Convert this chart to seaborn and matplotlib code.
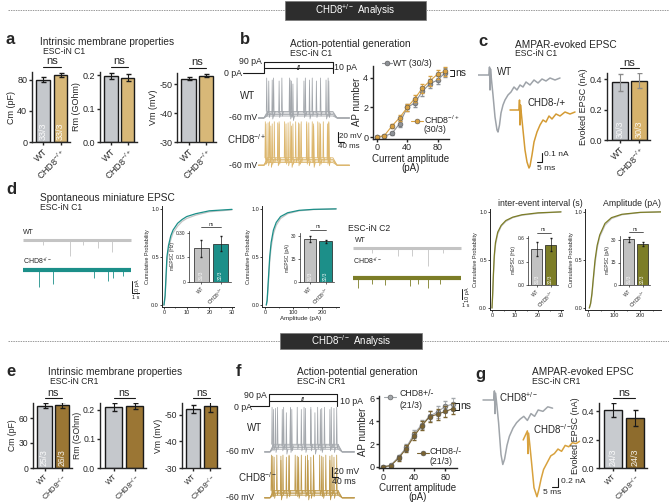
import matplotlib
matplotlib.use('Agg')
import matplotlib.pyplot as plt
import matplotlib.transforms as mtransforms
from matplotlib.lines import Line2D
from matplotlib.patches import Rectangle
import seaborn as sns

# ---------------- data ----------------
lab_het = ['WT', r'CHD8$^{-/+}$']
lab_het_d = ['WT', r'CHD8$^{+/-}$']
lab_ko = ['WT', r'CHD8$^{-/-}$']

# a: intrinsic properties C1
a_cm = [80, 86]
a_cm_err = [3, 3]
a_rm = [0.197, 0.192]
a_rm_err = [0.008, 0.01]
a_vm = [-52, -53]
a_vm_err = [0.6, 0.5]
a_n = ['33/3', '33/3']

# b: AP number vs current
current = [0, 10, 20, 30, 40, 50, 60, 70, 80, 90]
b_ap_wt = [0, 0.05, 0.25, 0.9, 2.0, 2.3, 3.1, 3.6, 3.85, 4.35]
b_ap_wt_err = [0, 0.05, 0.12, 0.2, 0.25, 0.25, 0.3, 0.3, 0.3, 0.3]
b_ap_het = [0, 0.1, 0.75, 1.3, 2.0, 2.6, 3.3, 3.8, 4.25, 4.45]
b_ap_het_err = [0, 0.05, 0.15, 0.2, 0.25, 0.25, 0.3, 0.35, 0.3, 0.3]

# b: example traces (plateau mV, peak mV, spike times ms)
b_wt_plateau = [-56, -53, -50, -47]
b_wt_peak = [8, 16, 14, 20]
b_wt_spikes = [[210], [60, 190, 330, 450], [35, 110, 200, 290, 380, 470],
               [20, 70, 130, 185, 240, 300, 350, 410, 465]]
b_het_plateau = [-55, -52, -49, -46]
b_het_peak = [14, 20, 18, 22]
b_het_spikes = [[50, 200, 360], [30, 100, 175, 250, 325, 400, 470],
                [15, 60, 110, 160, 210, 260, 310, 360, 410, 460],
                [10, 40, 75, 110, 150, 190, 230, 270, 310, 350, 390, 430, 470]]
stim_t = [-150, 0, 0, 500, 500]
stim_pa = [0, 0, 90, 90, 0]

# c: evoked EPSC
c_wt_t = [-12, -1, -0.5, 0, 0.5, 1.5, 3, 5, 7, 8, 9.5, 11, 13, 15, 18, 21, 24, 27, 30, 33, 36, 40, 44, 48, 52, 56, 60, 65, 70]
c_wt_i = [0, 0, 0.08, -0.15, 0.06, -0.05, -0.2, -0.42, -0.55, -0.57, -0.5, -0.38, -0.3, -0.25, -0.2, -0.17, -0.12,
          -0.15, -0.1, -0.12, -0.07, -0.1, -0.05, -0.08, -0.04, -0.06, -0.03, -0.05, -0.03]
c_het_t = [-10, -1, -0.5, 0, 0.5, 1.5, 3, 5, 7, 9, 10, 12, 14, 17, 20, 23, 26, 29, 32, 36, 40, 45, 50, 55]
c_het_i = [0, 0, 0.1, -0.15, 0.05, -0.05, -0.2, -0.4, -0.52, -0.58, -0.56, -0.45, -0.32, -0.22, -0.15, -0.1,
           -0.12, -0.06, -0.09, -0.04, -0.06, -0.02, -0.04, -0.02]
c_epsc = [0.38, 0.39]
c_epsc_err = [0.055, 0.05]
c_n = ['30/3', '30/3']

# d: mEPSC traces (event time s, amplitude pA)
d1_wt_ev = [2.5, 5.9, 7.5, 9.4, 11.1]
d1_wt_amp = [4, 13, 4, 7, 10]
d1_het_ev = [2.0, 3.8, 8.8, 10.6, 11.2, 12.5]
d1_het_amp = [14, 12, 7, 9, 7, 5]
d2_wt_ev = [2.4, 5.6, 7.4, 9.4, 11.25]
d2_wt_amp = [4, 7, 7, 15, 4]
d2_het_ev = [0.6, 2.4, 4.0, 7.1, 8.1, 9.4, 10.9]
d2_het_amp = [8, 5, 6, 7, 5, 8, 5]

# d: cumulative distributions
d1_int_x = [0, 0.5, 1, 1.3, 2, 3, 4, 6, 8, 10, 14, 20, 30]
d1_int_wt = [0, 0.08, 0.3, 0.45, 0.57, 0.68, 0.75, 0.82, 0.87, 0.9, 0.935, 0.97, 0.99]
d1_int_het = [0, 0.1, 0.35, 0.5, 0.62, 0.72, 0.78, 0.85, 0.89, 0.92, 0.95, 0.98, 0.995]
d1_amp_x = [5, 8, 12, 17, 22, 30, 40, 55, 80, 120, 170, 250]
d1_amp_wt = [0, 0.04, 0.2, 0.45, 0.6, 0.74, 0.83, 0.9, 0.95, 0.98, 0.993, 1.0]
d1_amp_het = [0, 0.05, 0.25, 0.5, 0.65, 0.78, 0.86, 0.92, 0.96, 0.985, 0.995, 1.0]
d2_int_x = [0, 0.3, 0.6, 1, 1.5, 2.5, 4, 6, 9, 13, 20, 30]
d2_int_wt = [0, 0.13, 0.32, 0.52, 0.65, 0.77, 0.85, 0.9, 0.94, 0.965, 0.985, 1.0]
d2_int_het = [0, 0.15, 0.35, 0.55, 0.68, 0.79, 0.86, 0.91, 0.945, 0.97, 0.99, 1.0]
d2_amp_x = [5, 10, 15, 20, 27, 35, 45, 65, 90, 130, 200, 280]
d2_amp_wt = [0, 0.04, 0.13, 0.27, 0.46, 0.62, 0.74, 0.86, 0.93, 0.97, 0.993, 1.0]
d2_amp_het = [0, 0.05, 0.15, 0.3, 0.5, 0.65, 0.76, 0.88, 0.94, 0.975, 0.995, 1.0]
d1_freq = [0.205, 0.232]
d1_freq_err = [0.05, 0.045]
d1_ampl = [28, 26.5]
d1_ampl_err = [2, 0.8]
d2_freq = [0.46, 0.52]
d2_freq_err = [0.09, 0.08]
d2_ampl = [30.5, 27.5]
d2_ampl_err = [1.5, 1.5]
d_n = ['31/3', '32/3']

# e: intrinsic properties CR1
e_cm = [75, 76]
e_cm_err = [2.5, 3.5]
e_rm = [0.208, 0.213]
e_rm_err = [0.014, 0.01]
e_vm = [-52, -53]
e_vm_err = [1.5, 2]
e_n = ['25/3', '26/3']

# f: AP number CR1
f_ap_het = [0, 0.15, 0.85, 1.7, 2.9, 3.7, 4.45, 4.8, 5.3, 5.5]
f_ap_het_err = [0, 0.1, 0.2, 0.3, 0.35, 0.4, 0.45, 0.5, 0.5, 0.5]
f_ap_ko = [0, 0.1, 0.75, 1.6, 2.7, 3.6, 4.4, 4.6, 4.85, 5.1]
f_ap_ko_err = [0, 0.1, 0.2, 0.3, 0.35, 0.4, 0.45, 0.5, 0.5, 0.5]
f_wt_plateau = [-55, -52, -49, -46]
f_wt_peak = [12, 20, 18, 22]
f_wt_spikes = [[120, 330], [40, 150, 260, 380, 470], [25, 90, 160, 230, 300, 370, 440],
               [15, 55, 100, 150, 200, 250, 300, 350, 400, 450, 490]]
f_ko_plateau = [-55, -52, -49, -46]
f_ko_peak = [12, 18, 20, 22]
f_ko_spikes = [[80, 280, 440], [30, 120, 210, 300, 390, 470], [20, 80, 140, 200, 260, 320, 380, 440],
               [10, 50, 95, 140, 185, 230, 275, 320, 365, 410, 455, 490]]

# g: evoked EPSC CR1
g_wt_t = [-10, -1, -0.5, 0, 0.5, 1.5, 3, 5, 6.5, 8, 10, 12, 15, 18, 21, 24, 27, 30, 33, 36, 40, 44, 48]
g_wt_i = [0, 0, 0.2, -0.3, 0.15, -0.1, -0.5, -1.2, -1.42, -1.3, -1.0, -0.8, -0.62, -0.5, -0.42, -0.36,
          -0.45, -0.3, -0.36, -0.22, -0.25, -0.15, -0.18]
g_ko_t = [-4, -0.5, 0, 0.5, 1.5, 3, 5, 7.5, 9, 11, 13, 16, 19, 22, 25, 28, 31, 34, 37, 40, 43]
g_ko_i = [0, 0.2, -0.3, 0.15, -0.1, -0.5, -1.05, -1.25, -1.1, -0.85, -0.65, -0.5, -0.35, -0.3, -0.2, -0.25,
          -0.12, -0.15, -0.06, -0.08, -0.03]
g_epsc = [0.41, 0.355]
g_epsc_err = [0.05, 0.055]
g_n = ['24/3', '24/3']

# ---------------- style ----------------
sns.set_theme(style='ticks')
plt.rcParams['font.family'] = ['Liberation Sans', 'DejaVu Sans']
plt.rcParams['mathtext.default'] = 'regular'
plt.rcParams['axes.linewidth'] = 1.0
plt.rcParams['axes.unicode_minus'] = False

gray_bar = '#c5c8cc'
tan_bar = '#d8b878'
brown_bar = '#9b7634'
teal = '#1c8f89'
olive = '#7c7d27'
lgray = '#c4c4c4'

W, H = 669, 504
fig = plt.figure(figsize=(W / 100, H / 100), dpi=100)


def pax(x0, y0, x1, y1):
    return fig.add_axes([x0 / W, 1 - y1 / H, (x1 - x0) / W, (y1 - y0) / H])


def ftext(x, y, s, **kw):
    kw.setdefault('va', 'center')
    kw.setdefault('fontsize', 7)
    fig.text(x / W, 1 - y / H, s, **kw)


def fline(xs, ys, **kw):
    fig.add_artist(Line2D([x / W for x in xs], [1 - y / H for y in ys], **kw))


def bar_axes(box, labels, means, errs, colors, ylim, yticks, ylabel, counts, fs=6.5,
             ecolor='k', small=False, ytl=None, xfs=None):
    ax = pax(*box)
    lw = 0.5 if small else 1.0
    sns.barplot(x=labels, y=means, hue=labels, palette=colors, legend=False, ax=ax,
                width=0.8, saturation=1, edgecolor='k', linewidth=lw)
    ax.errorbar(range(2), means, yerr=errs, fmt='none', ecolor=ecolor,
                elinewidth=0.5 if small else 0.8, capsize=1 if small else 1.8)
    ax.set_xlim(-0.65, 1.55)
    ax.set_ylim(*ylim)
    ax.set_yticks(yticks)
    if ytl is not None:
        ax.set_yticklabels(ytl)
    ax.set_ylabel(ylabel, fontsize=fs, labelpad=1)
    ax.set_xlabel('')
    ax.set_xticks(range(2))
    ax.set_xticklabels(labels, rotation=45, ha='right', rotation_mode='anchor', fontsize=xfs or fs)
    ax.tick_params(axis='y', labelsize=fs)
    ax.tick_params(length=1.5 if small else 2.5, width=lw, pad=1)
    for sp in ax.spines.values():
        sp.set_linewidth(lw)
    sns.despine(ax=ax)
    tr = mtransforms.blended_transform_factory(ax.transData, ax.transAxes)
    ax.plot([0, 1], [1.07, 1.07], color='k', lw=0.5 if small else 0.8, transform=tr, clip_on=False)
    ax.text(0.5, 1.08, 'ns', ha='center', va='bottom', transform=tr, fontsize=fs + (0 if small else 1.5))
    for i, c in enumerate(counts):
        ax.text(i, ylim[0] + 0.03 * (ylim[1] - ylim[0]), c, rotation=90, color='white',
                ha='center', va='bottom', fontsize=fs, alpha=0.9)
    return ax


def ap_axes(box, s1, e1, s2, e2, c1, c2, ylim, yticks):
    ax = pax(*box)
    for y, e, col in [(s1, e1, c1), (s2, e2, c2)]:
        ax.errorbar(current, y, yerr=e, fmt='none', ecolor=col, elinewidth=0.6, capsize=1.2)
        sns.lineplot(x=current, y=y, color=col, marker='o', markersize=3.5, lw=0.8,
                     markeredgecolor='#555555', markeredgewidth=0.4, ax=ax)
    ax.set_xlim(-5, 95)
    ax.set_ylim(*ylim)
    ax.set_xticks([0, 40, 80])
    ax.set_yticks(yticks)
    ax.set_ylabel('AP number', fontsize=7, labelpad=0.5)
    ax.set_xlabel('Current amplitude\n(pA)', fontsize=7, labelpad=1, linespacing=0.9)
    ax.tick_params(labelsize=6.5, length=2.5, width=1, pad=1)
    sns.despine(ax=ax)
    return ax


def trace_axes(box, xlim, ylim, plateaus, peaks, spikes, color):
    ax = pax(*box)
    for pl, pk, sp in zip(plateaus, peaks, spikes):
        ax.plot([-40, 0, 25, 500, 530, 620], [-60, -60, pl, pl, -60, -60], color=color, lw=0.6)
        for t in sp:
            ax.plot([t - 3, t, t + 4, t + 12], [pl, pk, pl - 9, pl], color=color, lw=0.55)
    ax.set_xlim(*xlim)
    ax.set_ylim(*ylim)
    ax.axis('off')
    return ax


def stim_axes(box, xlim):
    ax = pax(*box)
    ax.plot(stim_t, stim_pa, color='k', lw=0.8)
    ax.plot([0, 500], [40, 40], color='k', lw=0.8)
    ax.text(250, 40, '//', ha='center', va='center', fontsize=5, fontweight='bold')
    ax.set_xlim(*xlim)
    ax.set_ylim(-25, 106)
    ax.axis('off')
    return ax


def cdf_axes(box, xs, y_wt, y_mut, col, xlim, xticks, minor):
    ax = pax(*box)
    sns.lineplot(x=xs, y=y_wt, color=lgray, lw=0.9, ax=ax)
    sns.lineplot(x=xs, y=y_mut, color=col, lw=0.9, ax=ax)
    ax.set_xlim(*xlim)
    ax.set_ylim(-0.02, 1.03)
    ax.set_yticks([0, 0.5, 1.0])
    ax.set_yticklabels(['0.0', '0.5', '1.0'])
    ax.set_xticks(xticks)
    ax.set_xticks(minor, minor=True)
    ax.set_ylabel('Cumulative Probability', fontsize=4, labelpad=0.5)
    ax.tick_params(labelsize=4, length=1.5, width=0.6, pad=0.5)
    ax.tick_params(which='minor', length=1, width=0.5)
    for sp in ax.spines.values():
        sp.set_linewidth(0.7)
    sns.despine(ax=ax)
    return ax


def mepsc_axes(box, ev_wt, amp_wt, ev_mut, amp_mut, col, ylim):
    ax = pax(*box)
    ax.plot([0, 13.5], [0, 0], color=lgray, lw=2.2, solid_capstyle='butt')
    ax.vlines(ev_wt, [0] * len(ev_wt), [-a for a in amp_wt], color=lgray, lw=0.6)
    ax.plot([0, 13.5], [-25, -25], color=col, lw=3.0, solid_capstyle='butt')
    ax.vlines(ev_mut, [-25] * len(ev_mut), [-25 - a for a in amp_mut], color=col, lw=0.6)
    ax.plot([13.6, 13.6, 14.6], [-34, -44, -44], color='k', lw=0.7)
    ax.text(14.0, -39, '10 pA', rotation=90, fontsize=4, ha='left', va='center')
    ax.text(14.1, -46, '1 s', fontsize=4, ha='center', va='top')
    ax.set_xlim(-0.375, 14.6)
    ax.set_ylim(*ylim)
    ax.axis('off')
    return ax


# ---------------- headers ----------------
for yl, bx0, bx1, by0, by1, txt in [(10, 285, 426, 1, 20, r'CHD8$^{+/-}$ Analysis'),
                                    (341, 280, 422, 333, 349, r'CHD8$^{-/-}$ Analysis')]:
    fline([8, bx0], [yl, yl], color='#9a9a9a', lw=0.7, ls=(0, (1.5, 1)))
    fline([bx1, 669], [yl, yl], color='#9a9a9a', lw=0.7, ls=(0, (1.5, 1)))
    fig.add_artist(Rectangle((bx0 / W, 1 - by1 / H), (bx1 - bx0) / W, (by1 - by0) / H,
                             facecolor='#2d2d2d', edgecolor='#777777', lw=0.5))
    ftext((bx0 + bx1) / 2, (by0 + by1) / 2, txt, color='white', ha='center', fontsize=7)

# ---------------- panel letters & titles ----------------
for x, y, s in [(5, 40, 'a'), (240, 40, 'b'), (478, 42, 'c'), (6, 190, 'd'),
                (6, 372, 'e'), (236, 372, 'f'), (475, 374, 'g')]:
    ftext(x, y, s, fontsize=12, fontweight='bold')

ftext(40, 42, 'Intrinsic membrane properties', fontsize=7.3)
ftext(43, 51, 'ESC-iN C1', fontsize=6.2)
ftext(290, 44, 'Action-potential generation', fontsize=7.3)
ftext(290, 54, 'ESC-iN C1', fontsize=6.2)
ftext(515, 45, 'AMPAR-evoked EPSC', fontsize=7.3)
ftext(515, 54, 'ESC-iN C1', fontsize=6.2)
ftext(40, 198, 'Spontaneous miniature EPSC', fontsize=7.3)
ftext(40, 207, 'ESC-iN C1', fontsize=6.2)
ftext(348, 229, 'ESC-iN C2', fontsize=6.2)
ftext(48, 372, 'Intrinsic membrane properties', fontsize=7.3)
ftext(50, 381, 'ESC-iN CR1', fontsize=6.2)
ftext(297, 372, 'Action-potential generation', fontsize=7.3)
ftext(297, 382, 'ESC-iN CR1', fontsize=6.2)
ftext(532, 372, 'AMPAR-evoked EPSC', fontsize=7.3)
ftext(532, 382, 'ESC-iN CR1', fontsize=6.2)

# ---------------- panel a ----------------
bar_axes((32, 72, 70, 142), lab_het, a_cm, a_cm_err, [gray_bar, tan_bar], (0, 90), [0, 40, 80],
         'Cm (pF)', a_n)
bar_axes((100, 72, 137, 142), lab_het, a_rm, a_rm_err, [gray_bar, tan_bar], (0, 0.209), [0, 0.1, 0.2],
         'Rm (GOhm)', ['', ''])
bar_axes((177, 73, 216, 142), lab_het, a_vm, a_vm_err, [gray_bar, tan_bar], (-30, -54), [-30, -40, -50],
         'Vm (mV)', ['', ''])

# ---------------- panel b ----------------
stim_axes((240, 60, 352, 76), (-174, 638))
ftext(262, 62, '90 pA', ha='right', fontsize=6.3)
ftext(242, 73, '0 pA', ha='right', fontsize=6.3)
ftext(334, 67, '10 pA', fontsize=6.3)
trace_axes((258, 74, 352, 122), (-43, 638), (-68, 28), b_wt_plateau, b_wt_peak, b_wt_spikes, '#a2a6ab')
trace_axes((258, 118, 352, 170), (-43, 638), (-69, 29), b_het_plateau, b_het_peak, b_het_spikes, '#dcb66c')
ftext(240, 96, 'WT', fontsize=7)
ftext(257, 118, '-60 mV', ha='right', fontsize=6.3)
ftext(227, 139, r'CHD8$^{-/+}$', fontsize=7)
ftext(257, 166, '-60 mV', ha='right', fontsize=6.3)
fline([338, 338, 344], [132, 142, 142], color='k', lw=0.8)
ftext(339.5, 137, '20 mV', fontsize=5.8)
ftext(338, 146, '40 ms', fontsize=5.8)

ap_axes((373, 66, 449, 138.5), b_ap_wt, b_ap_wt_err, b_ap_het, b_ap_het_err,
        '#8d9196', '#d8a040', (-0.1, 4.8), [0, 2, 4])
fline([382, 392], [63, 63], color='#8d9196', lw=0.8)
fline([387], [63], color='#8d9196', marker='o', markersize=3.5, markeredgecolor='#555555',
      markeredgewidth=0.4)
ftext(393, 63, 'WT (30/3)', fontsize=6.3)
fline([411, 423], [121, 121], color='#d8a040', lw=0.8)
fline([417], [121], color='#d8a040', marker='o', markersize=3.5, markeredgecolor='#555555',
      markeredgewidth=0.4)
ftext(424, 120, r'CHD8$^{-/+}$', fontsize=6.3)
ftext(424, 130, '(30/3)', fontsize=6.3)
fline([450, 454, 454, 450], [70, 70, 76, 76], color='k', lw=0.7)
ftext(455, 73, 'ns', fontsize=7.5)

# ---------------- panel c ----------------
axc = pax(478, 62, 580, 175)
sns.lineplot(x=c_wt_t, y=c_wt_i, color='#9ea3a9', lw=1.1, ax=axc, sort=False)
sns.lineplot(x=[t + 30 for t in c_het_t], y=[i - 0.35 for i in c_het_i], color='#d49b34', lw=1.1,
             ax=axc, sort=False)
axc.plot([52, 52, 47], [-0.78, -0.87, -0.87], color='k', lw=0.8)
axc.text(54, -0.8, '0.1 nA', fontsize=6, va='center')
axc.text(47, -0.9, '5 ms', fontsize=6, va='top')
axc.set_xlim(-12, 90)
axc.set_ylim(-1.0, 0.13)
axc.axis('off')
ftext(497, 72, 'WT', fontsize=7)
ftext(527, 103, 'CHD8-/+', fontsize=7)
bar_axes((607, 73, 650, 140), lab_het, c_epsc, c_epsc_err, [gray_bar, '#d6b26c'], (0, 0.44),
         [0, 0.2, 0.4], 'Evoked EPSC (nA)', c_n, ecolor='#8a8a8a')

# ---------------- panel d ----------------
mepsc_axes((20, 225, 140, 295), d1_wt_ev, d1_wt_amp, d1_het_ev, d1_het_amp, teal, (-45.8, 12.5))
ftext(23, 233, 'WT', fontsize=5)
ftext(23, 261, r'CHD8$^{+/-}$', fontsize=5)
mepsc_axes((350, 235, 470, 300), d2_wt_ev, d2_wt_amp, d2_het_ev, d2_het_amp, olive, (-43.3, 10.8))
ftext(355, 240, 'WT', fontsize=5)
ftext(353, 261, r'CHD8$^{+/-}$', fontsize=5)

cdf_axes((161.7, 206, 234.3, 307), d1_int_x, d1_int_wt, d1_int_het, teal, (-1, 31),
         [0, 10, 20, 30], [5, 15, 25])
cdf_axes((262, 206, 339, 307), d1_amp_x, d1_amp_wt, d1_amp_het, teal, (-10, 260),
         [0, 100, 200], [50, 150, 250]).set_xlabel('Amplitude (pA)', fontsize=4.5, labelpad=1)
cdf_axes((489.7, 209, 563.3, 310), d2_int_x, d2_int_wt, d2_int_het, olive, (-1, 31),
         [0, 10, 20, 30], [5, 15, 25])
cdf_axes((585.4, 209, 661, 310), d2_amp_x, d2_amp_wt, d2_amp_het, olive, (-10, 280),
         [0, 100, 200], [50, 150, 250])
ftext(498, 203, 'inter-event interval (s)', fontsize=6.3)
ftext(603, 203, 'Amplitude (pA)', fontsize=6.3)

bar_axes((189, 231, 231, 282), lab_het_d, d1_freq, d1_freq_err, ['#c2c2c2', teal], (0, 0.31),
         [0, 0.15, 0.30], 'mEPSC (Hz)', d_n, fs=3.5, small=True, ytl=['0', '0.15', '0.30'])
bar_axes((300, 233, 334, 282), lab_het_d, d1_ampl, d1_ampl_err, ['#c2c2c2', teal], (0, 32),
         [0, 15, 30], 'mEPSC (pA)', d_n, fs=3.5, small=True)
bar_axes((528, 236, 558, 285), lab_het_d, d2_freq, d2_freq_err, ['#c2c2c2', olive], (0, 0.63),
         [0, 0.3, 0.6], 'mEPSC (Hz)', d_n, fs=3.5, small=True)
bar_axes((620, 235.5, 650, 285), lab_het_d, d2_ampl, d2_ampl_err, ['#c2c2c2', olive], (0, 33),
         [0, 15, 30], 'mEPSC (pA)', d_n, fs=3.5, small=True)

# ---------------- panel e ----------------
bar_axes((33, 403, 72, 468), lab_ko, e_cm, e_cm_err, [gray_bar, brown_bar], (0, 78), [0, 30, 60],
         'Cm (pF)', e_n, fs=6.2, xfs=5.4)
bar_axes((100, 403, 146, 468), lab_ko, e_rm, e_rm_err, [gray_bar, brown_bar], (0, 0.223),
         [0, 0.1, 0.2], 'Rm (GOhm)', ['', ''], fs=6.2, xfs=5.4)
bar_axes((182, 403, 220, 468), lab_ko, e_vm, e_vm_err, [gray_bar, brown_bar], (-30, -54.3),
         [-30, -40, -50], 'Vm (mV)', ['', ''], fs=6.2, xfs=5.4)

# ---------------- panel f ----------------
stim_axes((250, 392, 360, 409), (-140, 668))
ftext(267, 395, '90 pA', ha='right', fontsize=6.3)
ftext(252, 407, '0 pA', ha='right', fontsize=6.3)
ftext(340, 402, '10 pA', fontsize=6.3)
trace_axes((262, 404, 362, 456), (-59, 676), (-67.5, 28), f_wt_plateau, f_wt_peak, f_wt_spikes, '#a4a8ad')
trace_axes((262, 453, 362, 502), (-59, 676), (-68, 26), f_ko_plateau, f_ko_peak, f_ko_spikes, '#bf9a4c')
ftext(247, 428, 'WT', fontsize=7)
ftext(254, 452, '-60 mV', ha='right', fontsize=6.3)
ftext(238, 477, r'CHD8$^{-/-}$', fontsize=7)
ftext(254, 498, '-60 mV', ha='right', fontsize=6.3)
fline([332, 332, 338], [467, 477, 477], color='k', lw=0.8)
ftext(334, 472, '20 mV', fontsize=6.3)
ftext(332, 482, '40 ms', fontsize=6.3)

ap_axes((379, 396, 457, 468), f_ap_het, f_ap_het_err, f_ap_ko, f_ap_ko_err,
        '#a3a7ab', '#7a6331', (-0.1, 6.2), [0, 2, 4, 6])
fline([384, 396], [397, 397], color='#a3a7ab', lw=0.8)
fline([390], [397], color='#a3a7ab', marker='o', markersize=3.5, markeredgecolor='#555555',
      markeredgewidth=0.4)
ftext(400, 394, 'CHD8+/-', fontsize=6.3)
ftext(400, 405, '(21/3)', fontsize=6.3)
fline([417, 429], [453, 453], color='#7a6331', lw=0.8)
fline([423], [453], color='#7a6331', marker='o', markersize=3.5, markeredgecolor='#555555',
      markeredgewidth=0.4)
ftext(429, 452, 'CHD8-/-', fontsize=6.3)
ftext(429, 462, '(21/3)', fontsize=6.3)
fline([455, 459, 459, 455], [403, 403, 410, 410], color='k', lw=0.7)
ftext(460, 406, 'ns', fontsize=7.5)

# ---------------- panel g ----------------
axg = pax(480, 388, 590, 504)
sns.lineplot(x=g_wt_t, y=g_wt_i, color='#a0a5aa', lw=1.1, ax=axg, sort=False)
sns.lineplot(x=[t + 27.5 for t in g_ko_t], y=[i - 0.88 for i in g_ko_i], color='#d8a23e', lw=1.1,
             ax=axg, sort=False)
axg.plot([52.5, 52.5, 47.5], [-1.72, -1.91, -1.91], color='k', lw=0.8)
axg.text(55, -1.8, '0.2 nA', fontsize=6, va='center')
axg.text(40, -1.95, '5 ms', fontsize=6, va='top')
axg.set_xlim(-12.5, 79.2)
axg.set_ylim(-2.29, 0.264)
axg.axis('off')
ftext(499, 397, r'CHD8$^{+/-}$', fontsize=7)
ftext(533, 429, r'CHD8$^{-/-}$', fontsize=7)
bar_axes((599, 403, 647, 468), lab_ko, g_epsc, g_epsc_err, ['#c8cbcf', '#8e6c2d'], (0, 0.46),
         [0, 0.2, 0.4], 'Evoked EPSC (nA)', g_n, xfs=5.4)

fig.savefig('out.png', dpi=100)
